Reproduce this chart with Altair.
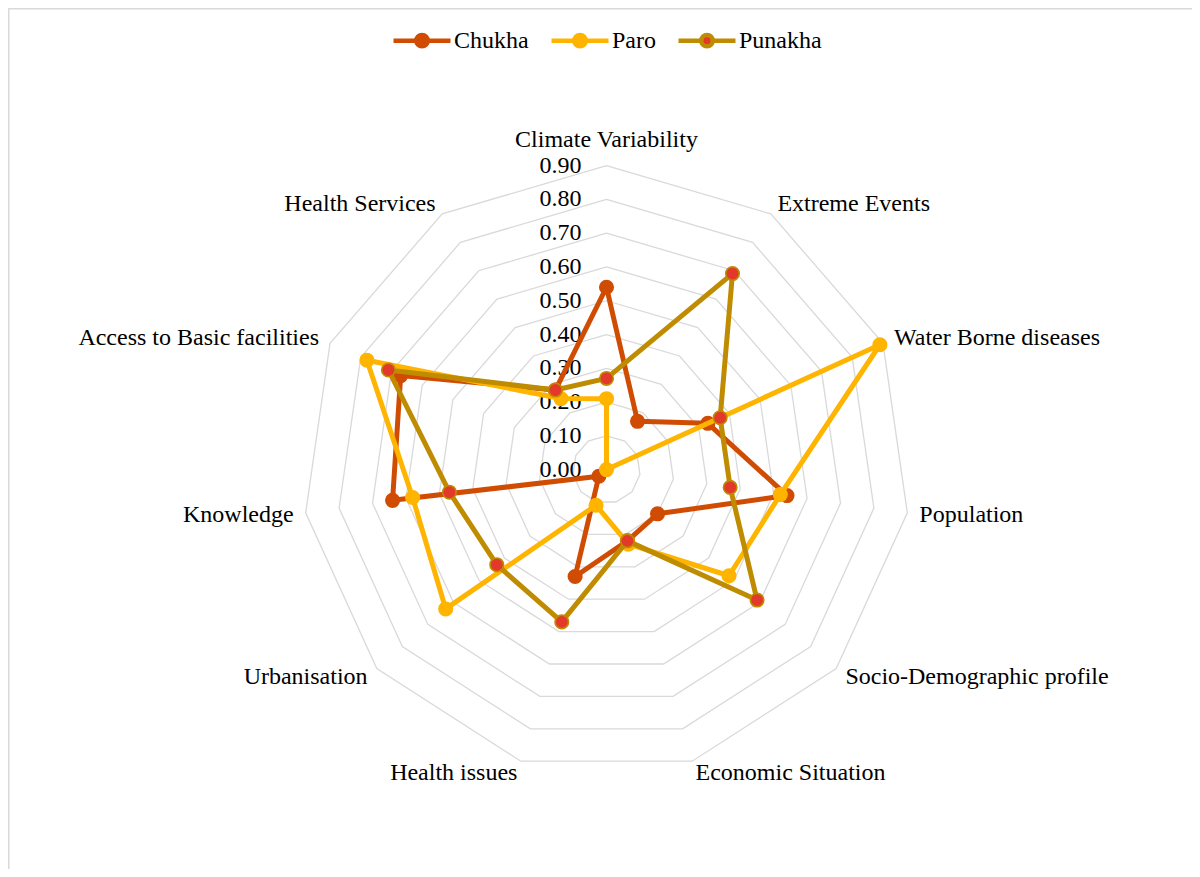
import math
import altair as alt
import pandas as pd

# ---------------- data ----------------
categories = [
    "Climate Variability", "Extreme Events", "Water Borne diseases", "Population",
    "Socio-Demographic profile", "Economic Situation", "Health issues", "Urbanisation",
    "Knowledge", "Access to Basic facilities", "Health Services",
]
series_names = ["Chukha", "Paro", "Punakha"]
chukha = [0.54, 0.17, 0.33, 0.54, 0.20, 0.22, 0.33, 0.03, 0.64, 0.67, 0.28]
paro = [0.21, 0.00, 0.89, 0.52, 0.48, 0.23, 0.11, 0.63, 0.58, 0.78, 0.25]
punakha = [0.27, 0.69, 0.37, 0.37, 0.59, 0.22, 0.47, 0.43, 0.47, 0.71, 0.28]
tick_values = [0.0, 0.1, 0.2, 0.3, 0.4, 0.5, 0.6, 0.7, 0.8, 0.9]
tick_labels = ["0.00", "0.10", "0.20", "0.30", "0.40", "0.50", "0.60", "0.70", "0.80", "0.90"]

# ---------------- style ----------------
line_colors = ["#D04C02", "#FFB400", "#BF8B00"]
marker_fills = ["#D04C02", "#FFB400", "#E2392B"]
grid_color = "#D9D9D9"
FONT = "Liberation Serif"
FS = 24

PLOT_W, PLOT_H = 1184, 861
UNIT = 337.7            # pixels per 1.0 of value
CX, CY = 598.5, 461.6   # centre inside plot area
xscale = alt.Scale(domain=[-CX / UNIT, (PLOT_W - CX) / UNIT], nice=False, zero=False)
yscale = alt.Scale(domain=[-(PLOT_H - CY) / UNIT, CY / UNIT], nice=False, zero=False)
X = alt.X("px:Q", scale=xscale, axis=None)
Y = alt.Y("py:Q", scale=yscale, axis=None)

N = len(categories)
ANG = f"datum.idx * 2 * PI / {N}"

# ---------------- tables built from arrays ----------------
rows = []
for name, vals in zip(series_names, [chukha, paro, punakha]):
    for i in range(N + 1):
        rows.append({"series": name, "idx": i, "category": categories[i % N], "value": vals[i % N]})
series_df = pd.DataFrame(rows)

ring_df = pd.DataFrame([{"level": lv, "idx": i} for lv in tick_values[1:] for i in range(N + 1)])
tick_df = pd.DataFrame({"level": tick_values, "label": tick_labels})

sides = []
for i in range(N):
    s = math.sin(2 * math.pi * i / N)
    sides.append("right" if s > 0.05 else ("left" if s < -0.05 else "top"))
cat_df = pd.DataFrame({"category": categories, "idx": list(range(N)), "side": sides})


def polar(chart, rfield):
    return (chart.transform_calculate(ang=ANG)
                 .transform_calculate(px=f"{rfield} * sin(datum.ang)")
                 .transform_calculate(py=f"{rfield} * cos(datum.ang)"))


# grid rings
rings = polar(alt.Chart(ring_df), "datum.level").mark_line(
    color=grid_color, strokeWidth=1.3
).encode(x=X, y=Y, detail="level:N", order="idx:Q")

# radial tick labels
ticks = alt.Chart(tick_df).transform_calculate(px="0", py="datum.level").mark_text(
    align="right", baseline="middle", dx=-25, font=FONT, fontSize=FS, color="black"
).encode(x=X, y=Y, text="label:N")

# category labels
LABEL_R = 0.936
TOP_R = 0.976
cat_layers = []
for side, align, r in [("right", "left", LABEL_R), ("left", "right", LABEL_R), ("top", "center", TOP_R)]:
    c = polar(alt.Chart(cat_df).transform_filter(f"datum.side == '{side}'"), str(r)).mark_text(
        align=align, baseline="middle", font=FONT, fontSize=FS, color="black"
    ).encode(x=X, y=Y, text="category:N")
    cat_layers.append(c)

# legend
rr = 0.2
SYM = (f"M-1,0H{-rr}M{rr},0H1M{rr},0A{rr},{rr},0,1,1,{-rr},0A{rr},{rr},0,1,1,{rr},0Z")
legend = alt.Legend(
    title=None, orient="none", legendX=383, legendY=1.5, direction="horizontal",
    symbolType=SYM, symbolSize=3249, symbolStrokeWidth=4.5, symbolOpacity=1,
    labelFont=FONT, labelFontSize=FS, labelColor="black", labelOffset=1,
    columnPadding=13, labelLimit=300,
)
stroke_scale = alt.Scale(domain=series_names, range=line_colors)
fill_scale = alt.Scale(domain=series_names, range=marker_fills)

series_layers = []
for name in series_names:
    base = polar(alt.Chart(series_df).transform_filter(f"datum.series == '{name}'"), "datum.value")
    ln = base.mark_line(strokeWidth=5, strokeJoin="round", strokeCap="round").encode(
        x=X, y=Y, order="idx:Q",
        stroke=alt.Stroke("series:N", scale=stroke_scale, legend=legend),
    )
    pt = base.transform_filter(f"datum.idx < {N}").mark_point(
        shape="circle", filled=True, size=182, strokeWidth=1.6, opacity=1
    ).encode(
        x=X, y=Y,
        stroke=alt.Stroke("series:N", scale=stroke_scale, legend=legend),
        fill=alt.Fill("series:N", scale=fill_scale, legend=legend),
    )
    series_layers += [ln, pt]

frame_df = pd.DataFrame({"k": [0]})
frame_left = alt.Chart(frame_df).mark_rule(color=grid_color, strokeWidth=1.5).encode(
    x=alt.value(0.75), y=alt.value(0), y2=alt.value(PLOT_H))
frame_top = alt.Chart(frame_df).mark_rule(color=grid_color, strokeWidth=1.5).encode(
    x=alt.value(0), x2=alt.value(PLOT_W), y=alt.value(0.75))

chart = alt.layer(
    frame_left, frame_top, rings, ticks, *cat_layers, *series_layers
).properties(
    width=PLOT_W, height=PLOT_H,
    autosize=alt.AutoSizeParams(type="none"), padding=0,
).configure_view(strokeWidth=0)

chart.save("out.html", embed_options={"renderer": "svg", "actions": False})
